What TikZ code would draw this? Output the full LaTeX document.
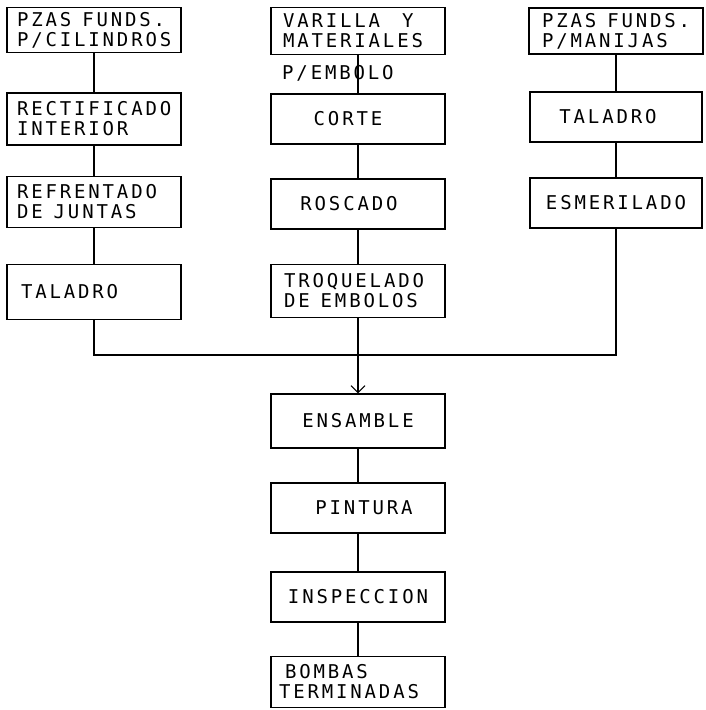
\documentclass[tikz,border=0pt]{standalone}
\usepackage{fontspec}
\usetikzlibrary{arrows.meta}
\newfontfamily\typewr[LetterSpace=15]{DejaVu Sans Mono}
\newcommand{\wgap}{\hspace*{11pt}}

\begin{document}
\begin{tikzpicture}[
  x=1pt,y=-1pt,
  box/.style={draw,line width=1.1pt,minimum width=174pt,minimum height=50pt,inner sep=5pt,font=\fontsize{19}{20}\selectfont\typewr},
  lbox/.style={box,text width=158pt,align=left},
  link/.style={line width=1.1pt},
  arrow/.style={link,-{Straight Barb[length=7pt,width=14pt]}}
]
  \useasboundingbox (0,0) rectangle (705,710);
  % left column: cylinders
  \node[lbox,minimum height=44pt] (pcil) at (94,30) {\hspace*{2pt}PZAS\wgap FUNDS.\\\hspace*{2pt}P/CILINDROS};
  \node[lbox,minimum height=52pt] (rect) at (94,119) {\hspace*{2pt}RECTIFICADO\\\hspace*{2pt}INTERIOR};
  \node[lbox,minimum height=51pt] (refr) at (94,202) {\hspace*{2pt}REFRENTADO\\\hspace*{2pt}DE\wgap JUNTAS};
  \node[lbox,minimum height=55pt] (ltal) at (94,292) {\hspace*{6pt}TALADRO};
  % middle column: plunger
  \node[lbox,text width=164pt,minimum height=47pt] (vari) at (358,31) {\hspace*{7pt}VARILLA\wgap\wgap Y\\\hspace*{7pt}MATERIALES};
  \node[font=\fontsize{19}{20}\selectfont\typewr,anchor=west,inner sep=0pt] (pemb) at (282,73) {P/EMBOLO};
  \node[box] (cort) at (358,119) {CORTE\hspace*{20pt}};
  \node[box] (rosc) at (358,204) {ROSCADO\hspace*{18pt}};
  \node[lbox,text width=164pt,minimum height=53pt] (troq) at (358,291) {\hspace*{8pt}TROQUELADO\\\hspace*{8pt}DE\wgap EMBOLOS};
  % right column: handles
  \node[lbox,text width=162pt,minimum height=46pt] (pman) at (616,31) {\hspace*{7pt}PZAS\wgap FUNDS.\\\hspace*{7pt}P/MANIJAS};
  \node[box,minimum width=172pt] (rtal) at (616,117) {TALADRO\hspace*{16pt}};
  \node[box,minimum width=172pt] (esme) at (616,203) {ESMERILADO};
  % assembly line
  \node[box,minimum height=54pt] (ens) at (358,421) {ENSAMBLE};
  \node[box] (pint) at (358,508) {\hspace*{12pt}PINTURA};
  \node[box] (insp) at (358,597) {INSPECCION};
  \node[lbox,text width=164pt,minimum height=51pt] (bomb) at (358,682) {\hspace*{9pt}BOMBAS\\\hspace*{3pt}TERMINADAS};
  \coordinate (join) at (358,355);
  \draw[link] (pcil) -- (rect);
  \draw[link] (rect) -- (refr);
  \draw[link] (refr) -- (ltal);
  \draw[link] (vari) -- (cort);
  \draw[link] (cort) -- (rosc);
  \draw[link] (rosc) -- (troq);
  \draw[link] (pman) -- (rtal);
  \draw[link] (rtal) -- (esme);
  \draw[link] (ltal) |- (join) -| (esme);
  \draw[arrow] (troq) -- (ens);
  \draw[link] (ens) -- (pint);
  \draw[link] (pint) -- (insp);
  \draw[link] (insp) -- (bomb);
\end{tikzpicture}
\end{document}
